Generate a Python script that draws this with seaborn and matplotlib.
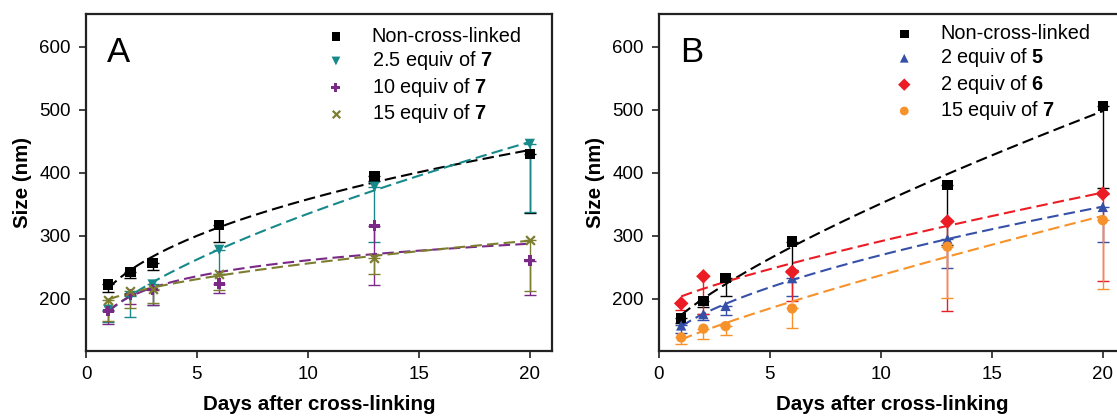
import numpy as np
import pandas as pd
import matplotlib
matplotlib.use("Agg")
import matplotlib.pyplot as plt
import seaborn as sns

# ---- data ----
days = [1, 2, 3, 6, 13, 20]

# panel A
a_labels = ["Non-cross-linked", r"2.5 equiv of $\mathbf{7}$",
            r"10 equiv of $\mathbf{7}$", r"15 equiv of $\mathbf{7}$"]
a_non = [223, 243, 257, 317, 395, 430]
a_non_err = [12, 10, 11, 26, 8, 94]
a_25 = [183, 204, 223, 278, 378, 446]
a_25_err = [20, 32, 32, 38, 87, 108]
a_10 = [181, 207, 215, 224, 316, 261]
a_10_err = [21, 15, 24, 14, 94, 54]
a_15 = [198, 212, 216, 240, 265, 294]
a_15_err = [33, 26, 22, 25, 26, 82]

# panel B (no 2 equiv of 6 point on day 3)
b_labels = ["Non-cross-linked", r"2 equiv of $\mathbf{5}$",
            r"2 equiv of $\mathbf{6}$", r"15 equiv of $\mathbf{7}$"]
b_non = [170, 197, 233, 291, 381, 506]
b_non_err = [8, 10, 28, 45, 96, 130]
b_5 = [158, 176, 189, 233, 295, 346]
b_5_err = [12, 10, 15, 29, 46, 56]
b_6 = [193, 236, np.nan, 243, 323, 367]
b_6_err = [10, 60, np.nan, 46, 142, 138]
b_7 = [139, 153, 157, 185, 283, 325]
b_7_err = [10, 17, 14, 31, 81, 109]

colors_a = ["#000000", "#17898a", "#7a2a86", "#7d7d30"]
markers_a = ["s", "v", "P", "x"]
colors_b = ["#000000", "#3650a8", "#ec1c24", "#f7922a"]
markers_b = ["s", "^", "D", "o"]


def fit_curve(x, y):
    # least squares fit of y = a + b * x**c, c chosen on a grid
    x = np.asarray(x, float)
    y = np.asarray(y, float)
    best = None
    for c in np.linspace(0.05, 1.5, 146):
        A = np.column_stack([np.ones_like(x), x ** c])
        coef = np.linalg.lstsq(A, y, rcond=None)[0]
        r = np.sum((A @ coef - y) ** 2)
        if best is None or r < best[0]:
            best = (r, coef, c)
    _, (a, b), c = best
    xs = np.linspace(x.min(), x.max(), 200)
    return xs, a + b * xs ** c


sns.set_theme(style="ticks")
plt.rcParams["font.family"] = ["Liberation Sans", "DejaVu Sans"]
plt.rcParams["mathtext.fontset"] = "custom"
plt.rcParams["mathtext.bf"] = "Liberation Sans:bold"
plt.rcParams["mathtext.rm"] = "Liberation Sans"
for k in ["text.color", "axes.labelcolor", "xtick.color", "ytick.color"]:
    plt.rcParams[k] = "black"

fig = plt.figure(figsize=(11.17, 4.2), dpi=100)
ax_a = fig.add_axes([86 / 1117, 1 - 350.7 / 420, 466 / 1117, 336.7 / 420])
ax_b = fig.add_axes([659 / 1117, 1 - 350.7 / 420, 466 / 1117, 336.7 / 420])


def draw_panel(ax, labels, series, errs, colors, markers, letter, leg_x, leg_y):
    df = pd.DataFrame({
        "day": days * len(labels),
        "size": np.concatenate(series),
        "err": np.concatenate(errs),
        "group": np.repeat(labels, len(days)),
    })
    for lab, col, mk in zip(labels, colors, markers):
        sub = df[df["group"] == lab].dropna()
        xs, ys = fit_curve(sub["day"], sub["size"])
        sns.lineplot(x=xs, y=ys, ax=ax, color=col, lw=1.5,
                     linestyle=(0, (5.5, 2.5)), zorder=2)
        ax.errorbar(sub["day"], sub["size"],
                    yerr=[sub["err"], np.zeros(len(sub))],
                    fmt="none", ecolor=col, elinewidth=1.0,
                    capsize=4, capthick=1.0, zorder=1)
        if mk == "x":
            sns.scatterplot(data=sub, x="day", y="size", marker=mk,
                            color=col, s=40, linewidth=1.6, label=lab,
                            ax=ax, zorder=3)
        else:
            sns.scatterplot(data=sub, x="day", y="size", marker=mk,
                            color=col, s=60 if mk == "P" else 55,
                            linewidth=0, edgecolor="none",
                            label=lab, ax=ax, zorder=3)
    ax.set_xlim(0, 21)
    ax.set_ylim(118, 652)
    ax.set_xticks([0, 5, 10, 15, 20])
    ax.set_yticks([200, 300, 400, 500, 600])
    ax.tick_params(labelsize=13.5, length=5, width=1.2, pad=6, color="#222222")
    for sp in ax.spines.values():
        sp.set_linewidth(1.6)
        sp.set_color("#222222")
    ax.set_xlabel("Days after cross-linking", fontsize=14.8,
                  fontweight="bold", labelpad=9)
    ax.set_ylabel("Size (nm)", fontsize=14.8, fontweight="bold", labelpad=5)
    ax.text(0.045, 0.857, letter, transform=ax.transAxes, fontsize=25,
            va="baseline", ha="left")
    handles, labs = ax.get_legend_handles_labels()
    ax.legend(handles, labs, loc="upper left",
              bbox_to_anchor=(leg_x, leg_y), frameon=False,
              fontsize=14.3, handlelength=1.0, handletextpad=1.3,
              labelspacing=0.17, borderaxespad=0, borderpad=0,
              markerscale=0.85)


draw_panel(ax_a, a_labels, [a_non, a_25, a_10, a_15],
           [a_non_err, a_25_err, a_10_err, a_15_err],
           colors_a, markers_a, "A", 0.515, 0.962)
draw_panel(ax_b, b_labels, [b_non, b_5, b_6, b_7],
           [b_non_err, b_5_err, b_6_err, b_7_err],
           colors_b, markers_b, "B", 0.505, 0.97)

fig.savefig("out.png", dpi=100)
